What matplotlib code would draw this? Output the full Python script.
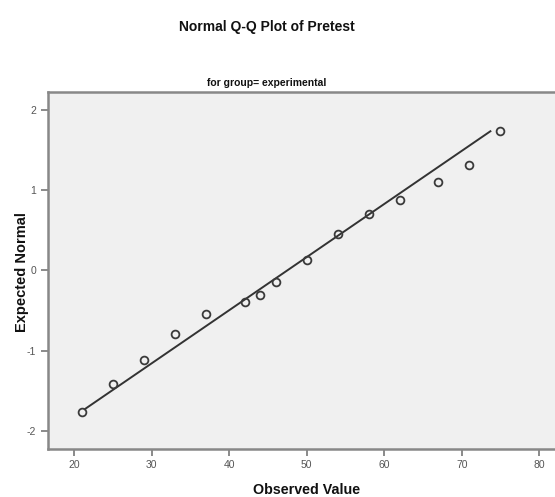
import numpy as np
import matplotlib
matplotlib.use("Agg")
import matplotlib.pyplot as plt

plt.rcParams['font.family'] = ['Liberation Sans', 'DejaVu Sans']
plt.rcParams['axes.unicode_minus'] = False

# observed pretest scores and their expected normal values
observed = [21, 25, 29, 33, 37, 42, 44, 46, 50, 54, 58, 62, 67, 71, 75]
expected = [-1.76, -1.41, -1.12, -0.79, -0.54, -0.39, -0.31, -0.15,
            0.13, 0.45, 0.70, 0.88, 1.10, 1.31, 1.74]

# reference line: y = (x - mean) / sd
line_x = [21.4, 73.7]
mean_val = 47.5
sd_val = 15.1

x_ticks = [20, 30, 40, 50, 60, 70, 80]
y_ticks = [-2, -1, 0, 1, 2]

fig = plt.figure(figsize=(5.55, 4.97), dpi=100)
ax = fig.add_axes([0.0865, 0.0975, 0.9135, 0.7175])
ax.set_facecolor('#f0f0f0')

lx = np.array(line_x)
ax.plot(lx, (lx - mean_val) / sd_val, color='#333333', lw=1.4, zorder=2)
ax.plot(observed, expected, 'o', mfc='none', mec='#3a3a3a', mew=1.3,
        ms=5.6, zorder=3)

ax.set_xlim(16.65, 82.03)
ax.set_ylim(-2.22, 2.225)
ax.set_xticks(x_ticks)
ax.set_yticks(y_ticks)
ax.tick_params(colors='#777777', labelcolor='#555555', labelsize=7.5,
               length=5, width=1.2, direction='out')

for side in ['left', 'bottom', 'top']:
    ax.spines[side].set_color('#888888')
    ax.spines[side].set_linewidth(1.8)
ax.spines['right'].set_visible(False)

# labels placed on the figure, as in the original layout
fig.text(307 / 555, 1 - 490 / 497, 'Observed Value', ha='center', va='center',
         fontsize=10.3, fontweight='bold', color='#111111')
fig.text(22 / 555, 1 - 272 / 497, 'Expected Normal', ha='center', va='center',
         rotation=90, fontsize=10.5, fontweight='bold', color='#111111')
fig.text(267 / 555, 1 - 83 / 497, 'for group= experimental', ha='center',
         va='center', fontsize=7.5, fontweight='bold', color='#111111')
fig.text(267 / 555, 1 - 27 / 497, 'Normal Q-Q Plot of Pretest', ha='center',
         va='center', fontsize=10, fontweight='bold', color='#111111')

fig.savefig('out.png', dpi=100)
